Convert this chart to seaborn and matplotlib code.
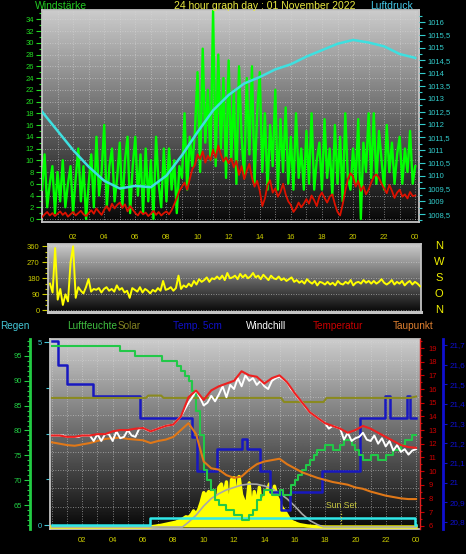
import numpy as np
import matplotlib
matplotlib.use("Agg")
import matplotlib.pyplot as plt
import matplotlib.transforms as mtransforms
from matplotlib.ticker import MultipleLocator, FixedLocator
import seaborn as sns

# ---------------- data ----------------
hour_ticks = [2, 4, 6, 8, 10, 12, 14, 16, 18, 20, 22, 24]
hour_labels = ["02", "04", "06", "08", "10", "12", "14", "16", "18", "20", "22", "00"]

# 10 minute steps 00:00 .. 24:00
ten_min = np.linspace(0, 24, 145)

# Windstärke, gusts (green)
wind_gust = [
    5, 11, 2, 6, 9, 1,
    8, 3, 10, 2, 6, 9,
    1, 7, 12, 3, 9, 0,
    6, 11, 2, 14, 4, 8,
    16, 2, 9, 12, 3, 7,
    13, 2, 10, 14, 1, 9,
    14, 4, 11, 1, 12, 3,
    10, 0, 14, 6, 2, 12,
    3, 12, 5, 10, 1, 9,
    7, 18, 5, 14, 9, 15,
    25, 8, 29, 13, 22, 10,
    35.5, 9, 28, 12, 24, 7,
    27, 10, 22, 6, 26, 14,
    7, 24, 11, 26, 6, 18,
    25, 8, 18, 5, 16, 9,
    22, 5, 17, 8, 19, 6,
    14, 5, 18, 7, 12, 5,
    15, 6, 18, 5, 10, 13,
    5, 17, 7, 12, 4, 16,
    6, 14, 3, 18, 7, 5,
    12, 6, 17, 0, 13, 8,
    18, 7, 18, 6, 15, 10,
    5, 16, 8, 13, 6, 11,
    14, 6, 12, 8, 15, 6,
    9,
]

# Windstärke, average (red)
wind_avg = [
    0.3, 0.8, 1.2, 0.6, 1.0, 0.5,
    0.9, 1.3, 0.7, 1.1, 0.4, 0.8,
    1.2, 0.6, 1.0, 1.4, 0.8, 0.5,
    1.0, 1.5, 0.9, 1.8, 1.2, 0.7,
    1.6, 2.2, 1.4, 2.6, 1.8, 2.4,
    2.8, 1.9, 2.5, 1.3, 2.2, 1.6,
    1.0, 0.6, 1.3, 0.8, 1.1, 0.5,
    0.9, 1.4, 0.7, 1.2, 0.6, 1.0,
    1.3, 0.8, 1.5, 2.5, 3.6, 4.8,
    5.5, 6.2, 5.0, 6.8, 8.5, 9.2,
    11.0, 10.2, 11.5, 9.6, 10.8, 10.0,
    11.8, 10.4, 12.5, 11.0, 9.8, 10.5,
    9.5, 10.3, 8.8, 9.9, 7.5, 9.0,
    6.8, 8.2, 9.4, 7.0, 5.5, 6.5,
    4.8, 2.2, 3.5, 5.8, 6.6, 4.5,
    5.2, 3.8, 4.6, 6.0, 4.2, 3.0,
    2.4, 1.2, 1.8, 2.8, 2.0, 2.6,
    3.4, 2.6, 4.0, 3.2, 2.2, 3.8,
    4.5, 3.6, 2.8, 3.8, 4.2, 2.5,
    1.2, 0.6, 2.5, 4.8, 6.8, 7.8,
    7.2, 5.5, 6.5, 4.8, 5.6, 4.2,
    5.0, 6.2, 7.2, 7.6, 7.0, 6.0,
    5.2, 4.4, 5.8, 4.8, 3.6, 4.5,
    5.0, 3.8, 4.2, 3.5, 4.6, 3.9,
    4.0,
]

# Luftdruck, hourly (cyan)
pressure_hours = list(range(25))
pressure = [1012.5, 1011.75, 1011.0, 1010.35, 1009.8, 1009.5, 1009.6, 1009.55,
            1010.0, 1010.8, 1011.7, 1012.55, 1013.15, 1013.6, 1013.85, 1014.15,
            1014.35, 1014.65, 1014.9, 1015.15, 1015.3, 1015.2, 1015.05, 1014.75,
            1014.6]
pressure_ticks = [1008.5, 1009, 1009.5, 1010, 1010.5, 1011, 1011.5, 1012,
                  1012.5, 1013, 1013.5, 1014, 1014.5, 1015, 1015.5, 1016]
wind_ticks = list(range(0, 35, 2))

# Windrichtung, degrees (yellow)
wind_dir = [
    150, 100, 350, 60, 120, 30,
    90, 50, 270, 360, 70, 130,
    110, 95, 130, 176, 105, 120,
    115, 125, 100, 120, 130, 110,
    120, 105, 140, 115, 125, 100,
    110, 70, 125, 115, 105, 130,
    100, 120, 110, 95, 115, 105,
    125, 110, 165, 115, 120, 130,
    110, 125, 195, 120, 140, 130,
    150, 135, 165, 145, 175, 160,
    170, 185, 160, 180, 175, 190,
    175, 195, 170, 210, 180, 185,
    195, 175, 205, 185, 200, 180,
    190, 210, 185, 195, 175, 200,
    185, 170, 195, 180, 175, 190,
    170, 180, 165, 175, 185, 160,
    170, 155, 165, 150, 175, 160,
    150, 165, 140, 160, 155, 145,
    160, 145, 155, 140, 165, 150,
    145, 160, 150, 170, 140, 155,
    160, 150, 170, 155, 165, 150,
    165, 150, 160, 175, 155, 145,
    155, 170, 145, 160, 150, 165,
    140, 155, 165, 145, 160, 150,
    135,
]
dir_ticks = [0, 90, 180, 270, 360]
dir_letters = ["N", "O", "S", "W", "N"]

# lower chart
half_hour = np.linspace(0, 24, 49)
quarter_hour = np.linspace(0, 24, 97)

temperature = [12.6, 12.6, 12.5, 12.5, 12.6, 12.6, 12.7, 12.7, 12.9, 13.0,
               13.0, 13.1, 13.15, 12.9, 13.1, 13.3, 13.4, 14.0, 15.4, 15.9,
               15.2, 15.9, 16.2, 16.4, 16.6, 17.3, 17.0, 16.9, 16.4, 16.8,
               17.0, 16.5, 15.7, 15.0, 14.3, 13.9, 13.5, 13.3, 13.1, 12.8,
               13.0, 13.3, 13.1, 12.8, 12.5, 12.2, 11.9, 11.75, 11.7]

dewpoint = [12.1, 12.0, 11.9, 11.85, 11.95, 12.05, 12.2, 12.35, 12.4, 12.45,
            12.35, 12.3, 12.25, 12.05, 12.2, 12.3, 12.5, 13.0, 13.5, 12.7,
            10.7, 10.2, 10.1, 9.7, 9.5, 9.6, 10.1, 10.5, 10.7, 10.8,
            10.9, 10.5, 10.2, 9.9, 9.7, 9.5, 9.35, 9.2, 9.1, 9.0,
            8.8, 8.7, 8.5, 8.35, 8.2, 8.1, 8.0, 7.95, 7.95]

windchill = [
    12.6, 12.6, 12.6, 12.6,
    12.5, 12.5, 12.5, 12.5,
    12.6, 12.6, 12.6, 12.2,
    12.7, 12.2, 12.7, 12.7,
    12.2, 12.9, 12.4, 12.5,
    13.0, 12.6, 12.5, 13.1,
    13.15, 13.0, 12.9, 13.0,
    13.1, 13.2, 13.3, 13.35,
    13.4, 13.7, 14.0, 14.5,
    15.0, 15.4, 15.9, 15.4,
    14.8, 15.0, 15.5, 15.1,
    15.6, 16.2, 15.4, 16.3,
    16.0, 16.8, 16.2, 17.0,
    16.6, 16.8, 16.3, 16.6,
    16.2, 16.0, 16.6, 16.8,
    16.9, 16.7, 16.5, 16.0,
    15.7, 15.3, 15.0, 14.6,
    14.3, 14.1, 13.9, 13.7,
    13.5, 13.1, 13.3, 13.2,
    13.1, 12.3, 12.8, 12.2,
    12.4, 12.5, 12.8, 12.3,
    12.2, 12.6, 12.0, 12.4,
    11.8, 12.2, 11.5, 11.9,
    11.4, 11.6, 11.2, 11.5,
    11.6,
]

humidity = [
    97, 97, 97, 97,
    97, 97, 97, 97,
    97, 97, 97, 97,
    97, 97, 97, 97,
    97, 97, 96, 96,
    96, 96, 95, 95,
    95, 95, 95, 95,
    95, 94, 94, 94,
    94, 93, 92, 91,
    90, 88, 84, 79,
    72, 70, 68, 66,
    65, 65, 64, 64,
    63, 63, 62, 62,
    63, 64, 66, 67,
    68, 68, 67, 67,
    68, 67, 67, 69,
    70, 71, 72, 73,
    74, 75, 76, 76,
    77, 77, 76, 76,
    77, 78, 78, 77,
    76, 75, 74, 74,
    75, 75, 74, 74,
    75, 75, 76, 76,
    77, 78, 78, 79,
    79,
]

temp5_hours = [0, 0.4, 1.0, 2.7, 5.8, 9.2, 9.55, 10.9, 12.5, 12.85, 13.7,
               14.4, 15.1, 15.7, 17.8, 20.3, 21.95, 22.3, 23.4, 23.6, 24.0]
temp5 = [21.72, 21.6, 21.5, 21.44, 21.33, 21.23, 21.06, 21.17, 21.22, 21.17,
         21.06, 20.95, 20.86, 20.95, 21.06, 21.33, 21.44, 21.33, 21.44, 21.33,
         21.33]

rain_hours = [0, 6.47, 23.93, 24.0]
rain = [0.0, 0.19, 0.0, 0.0]

olive_hours = [0, 6.2, 6.35, 7.2, 7.35, 15.1, 15.3, 17.9, 18.1, 23.6, 24.0]
olive = [15.35, 15.35, 15.52, 15.52, 15.35, 15.35, 15.05, 15.05, 15.35, 15.35, 15.45]

solar_hours = np.concatenate([[0.0], np.linspace(6, 18, 73), [24.0]])
solar = [0,
         0, 0, 0, 2, 5, 8,
         12, 15, 20, 25, 30, 35,
         40, 45, 55, 65, 80, 95,
         90, 110, 150, 120, 160, 230,
         320, 290, 330, 310, 340, 150,
         370, 400, 280, 420, 60, 440,
         460, 210, 470, 300, 240, 200,
         410, 120, 330, 200, 370, 150,
         300, 330, 400, 220, 380, 280,
         230, 180, 150, 110, 70, 50,
         40, 30, 22, 18, 14, 10,
         8, 6, 4, 3, 2, 1,
         0,
         0]

solar_max_hours = [0, 8.6, 9, 9.5, 10, 10.5, 11, 11.5, 12, 12.5, 13, 13.5,
                   14, 14.5, 15, 15.5, 16, 16.5, 17, 17.5, 17.9, 24]
solar_max = [0, 0, 45, 110, 195, 265, 310, 345, 368, 390, 400, 398,
             382, 358, 315, 262, 195, 120, 60, 22, 0, 0]

sunset_hour = 19.05

humidity_ticks = [65, 70, 75, 80, 85, 90, 95]
temp_ticks = list(range(6, 20))
temp5_ticks = [20.8, 20.9, 21.0, 21.1, 21.2, 21.3, 21.4, 21.5, 21.6, 21.7]

legend_names = ["Regen", "Luftfeuchte", "Solar", "Temp. 5cm", "Windchill",
                "Temperatur", "Taupunkt"]

# ---------------- style ----------------
plt.rcParams["font.family"] = ["Liberation Sans", "DejaVu Sans"]
plt.rcParams["axes.facecolor"] = "black"

W, H = 466, 554
fig = plt.figure(figsize=(W / 100, H / 100), dpi=100, facecolor="black")


def px_box(x0, y0, x1, y1):
    return [x0 / W, 1 - y1 / H, (x1 - x0) / W, (y1 - y0) / H]


def shade(ax):
    grad = np.linspace(0.80, 0.03, 256).reshape(-1, 1)
    ax.imshow(grad, extent=[0, 1, 0, 1], transform=ax.transAxes, aspect="auto",
              cmap="gray", vmin=0, vmax=1, zorder=0, interpolation="bilinear")
    ax.set_axisbelow(True)


def comma(v):
    return f"{v:g}".replace(".", ",")


def bare_twin(ax):
    tw = ax.twinx()
    for s in tw.spines.values():
        s.set_visible(False)
    tw.tick_params(axis="y", which="both", right=False, labelright=False,
                   left=False, labelleft=False)
    return tw


grid_kw = dict(color="#d8d8d8", linestyle=(0, (1, 2)), linewidth=0.6, alpha=0.7)
frame = "#c4c4c4"
tick_yel = "#cccc00"

# ================= top: wind + pressure =================
ax1 = fig.add_axes(px_box(42, 10, 419, 222))
shade(ax1)
sns.lineplot(x=ten_min, y=wind_gust, ax=ax1, color="#00ff00", lw=1.7,
             estimator=None, errorbar=None, zorder=3)
sns.lineplot(x=ten_min, y=wind_avg, ax=ax1, color="#dd1100", lw=1.3,
             estimator=None, errorbar=None, zorder=4)
ax1.set_xlim(0, 24.24)
ax1.set_ylim(-0.51, 35.58)
ax1.set_xticks(hour_ticks)
ax1.set_xticklabels(hour_labels)
ax1.xaxis.set_minor_locator(MultipleLocator(1))
ax1.set_yticks(wind_ticks)
ax1.yaxis.set_minor_locator(MultipleLocator(1))
ax1.tick_params(axis="x", which="both", length=0, pad=9, colors=tick_yel, labelsize=5.5)
ax1.tick_params(axis="y", which="major", length=4, width=0.8, pad=2,
                colors="#22dd22", labelsize=5.5)
ax1.tick_params(axis="y", which="minor", length=2, width=0.8, colors="#22dd22")
ax1.grid(axis="x", which="both", **grid_kw)
ax1.grid(axis="y", which="major", **grid_kw)
for s in ax1.spines.values():
    s.set_color(frame)
    s.set_linewidth(1.3)
ax1.set_xlabel("")
ax1.set_ylabel("")

ax1p = bare_twin(ax1)
sns.lineplot(x=pressure_hours, y=pressure, ax=ax1p, color="#3ee0e0", lw=1.8,
             estimator=None, errorbar=None)
ax1p.set_ylim(1008.19, 1016.47)
ax1p.set_yticks(pressure_ticks)
ax1p.set_yticklabels([comma(v) for v in pressure_ticks])
ax1p.yaxis.set_minor_locator(MultipleLocator(0.25))
ax1p.tick_params(axis="y", which="major", right=True, labelright=True, length=4,
                 width=0.8, pad=2, colors="#33cccc", labelsize=5.5)
ax1p.tick_params(axis="y", which="minor", right=True, length=2, width=0.8,
                 colors="#33cccc")
ax1p.set_ylabel("")

fig.text(35 / W, 1 - 6 / H, "Windstärke", color="#22cc22", fontsize=7.5,
         ha="left", va="center")
fig.text(265 / W, 1 - 6 / H, "24 hour graph day : 01 November 2022",
         color="#e8e840", fontsize=7.5, ha="center", va="center")
fig.text(370 / W, 1 - 6 / H, "Luftdruck", color="#44c8e8", fontsize=7.5,
         ha="left", va="center")

# ================= middle: wind direction =================
ax2 = fig.add_axes(px_box(48, 244, 421, 312))
shade(ax2)
sns.lineplot(x=ten_min, y=wind_dir, ax=ax2, color="#ffff00", lw=1.4,
             estimator=None, errorbar=None, zorder=3)
ax2.set_xlim(-0.13, 24.06)
ax2.set_ylim(-9.6, 372.9)
ax2.set_xticks([])
ax2.set_yticks(dir_ticks)
ax2.yaxis.set_minor_locator(MultipleLocator(30))
ax2.tick_params(axis="y", which="major", length=4, width=0.8, pad=2,
                colors=tick_yel, labelsize=5.5)
ax2.tick_params(axis="y", which="minor", length=2, width=0.8, colors=tick_yel)
ax2.grid(axis="y", which="major", **grid_kw)
for s in ax2.spines.values():
    s.set_color(frame)
    s.set_linewidth(1.3)
ax2.spines["bottom"].set_linewidth(2.2)
ax2.set_xlabel("")
ax2.set_ylabel("")
side = mtransforms.blended_transform_factory(ax2.transAxes, ax2.transData)
for val, letter in zip(dir_ticks, dir_letters):
    ax2.text(1.048, val, letter, transform=side, color="#f0f000", fontsize=8,
             ha="center", va="center", clip_on=False)

# legend row
legend_x = [0, 67, 118, 173, 246, 313, 393]
legend_colors = ["#44c8d8", "#40c040", "#808020", "#1010c8", "#ffffff",
                 "#c80000", "#e08030"]
for name, lx, col in zip(legend_names, legend_x, legend_colors):
    fig.text(lx / W, 1 - 326 / H, name, color=col, fontsize=7.2,
             ha="left", va="center")

# ================= bottom: temperatures etc. =================
ax3 = fig.add_axes(px_box(50, 339, 420, 529))
shade(ax3)
ax3.set_xlim(-0.13, 24.26)
ax3.set_ylim(-0.109, 5.082)
ax3.set_xticks(hour_ticks)
ax3.set_xticklabels(hour_labels)
ax3.xaxis.set_minor_locator(MultipleLocator(1))
ax3.tick_params(axis="x", which="both", length=0, pad=6, colors=tick_yel, labelsize=5.5)
ax3.yaxis.set_major_locator(FixedLocator([0, 5]))
ax3.yaxis.set_minor_locator(FixedLocator([1.25, 2.5, 3.75]))
ax3.tick_params(axis="y", which="major", length=4, width=0.8, pad=2,
                colors="#44c8d8", labelsize=5.5)
ax3.tick_params(axis="y", which="minor", length=3, width=0.8, colors="#44c8d8")
ax3.grid(axis="x", which="both", **grid_kw)
for v in np.arange(0.5, 5.01, 0.5):
    ax3.axhline(v, zorder=0.5, **grid_kw)
for s in ax3.spines.values():
    s.set_color(frame)
    s.set_linewidth(1.3)
ax3.spines["right"].set_visible(False)

# solar
ax_s = bare_twin(ax3)
ax_s.fill_between(solar_hours, solar, color="#ffff00", lw=0, zorder=2)
sns.lineplot(x=solar_hours, y=solar, ax=ax_s, color="#ffff00", lw=2.4,
             estimator=None, errorbar=None, zorder=3)
sns.lineplot(x=solar_max_hours, y=solar_max, ax=ax_s, color="#a8a8a8", lw=1.2,
             estimator=None, errorbar=None, zorder=4)
ax_s.set_ylim(-18.6, 1749)
ax_s.set_ylabel("")

# rain
ax_r = bare_twin(ax3)
sns.lineplot(x=rain_hours, y=rain, ax=ax_r, color="#30e8e8", lw=1.8,
             drawstyle="steps-post", estimator=None, errorbar=None)
ax_r.set_ylim(-0.109, 5.082)
ax_r.vlines(sunset_hour, -0.05, 0.38, colors="#c8c840", linestyles=(0, (1, 1.5)), lw=0.9)
ax_r.text(sunset_hour, 0.53, "Sun Set", color="#c8c840", fontsize=6.2,
          ha="center", va="center")
ax_r.set_ylabel("")

# temp 5 cm
ax_5 = bare_twin(ax3)
sns.lineplot(x=temp5_hours, y=temp5, ax=ax_5, color="#1818c0", lw=1.8,
             drawstyle="steps-post", estimator=None, errorbar=None)
ax_5.set_ylim(20.764, 21.7305)
ax_5.set_yticks(temp5_ticks)
ax_5.set_yticklabels([comma(v) for v in temp5_ticks])
ax_5.spines["right"].set_visible(True)
ax_5.spines["right"].set_position(("axes", (443 - 50) / 370))
ax_5.spines["right"].set_color("#1010d0")
ax_5.spines["right"].set_linewidth(2)
ax_5.tick_params(axis="y", which="major", right=True, labelright=True, length=3,
                 width=0.8, pad=2, colors="#1010d0", labelsize=5.8)
ax_5.set_ylabel("")

# humidity
ax_h = bare_twin(ax3)
sns.lineplot(x=quarter_hour, y=humidity, ax=ax_h, color="#22c848", lw=1.5,
             drawstyle="steps-post", estimator=None, errorbar=None)
ax_h.set_ylim(60.17, 98.42)
ax_h.yaxis.tick_left()
ax_h.spines["left"].set_visible(True)
ax_h.spines["left"].set_position(("axes", -20 / 370))
ax_h.spines["left"].set_color("#22cc44")
ax_h.spines["left"].set_linewidth(2)
ax_h.set_yticks(humidity_ticks)
ax_h.yaxis.set_minor_locator(MultipleLocator(1))
ax_h.tick_params(axis="y", which="major", left=True, labelleft=True, length=4,
                 width=0.8, pad=2, colors="#22cc44", labelsize=5.5)
ax_h.tick_params(axis="y", which="minor", left=True, length=2, width=0.8,
                 colors="#22cc44")
ax_h.set_ylabel("")

# temperature, windchill, dewpoint
ax_t = bare_twin(ax3)
sns.lineplot(x=olive_hours, y=olive, ax=ax_t, color="#8a8a20", lw=1.5,
             estimator=None, errorbar=None, zorder=2)
sns.lineplot(x=half_hour, y=dewpoint, ax=ax_t, color="#e07818", lw=1.5,
             estimator=None, errorbar=None, zorder=3)
sns.lineplot(x=quarter_hour, y=windchill, ax=ax_t, color="#ffffff", lw=1.4,
             estimator=None, errorbar=None, zorder=4)
sns.lineplot(x=half_hour, y=temperature, ax=ax_t, color="#ee2020", lw=1.5,
             estimator=None, errorbar=None, zorder=5)
ax_t.set_ylim(5.76, 19.66)
ax_t.set_yticks(temp_ticks)
ax_t.yaxis.set_minor_locator(MultipleLocator(0.5))
ax_t.spines["right"].set_visible(True)
ax_t.spines["right"].set_color("#dd2020")
ax_t.spines["right"].set_linestyle((0, (1, 1)))
ax_t.spines["right"].set_linewidth(1)
ax_t.tick_params(axis="y", which="major", right=True, labelright=True, length=3,
                 width=0.8, pad=3, colors="#cc0000", labelsize=5.5)
ax_t.tick_params(axis="y", which="minor", right=True, length=1.5, width=0.8,
                 colors="#cc0000")
ax_t.set_ylabel("")

ax3.set_xlim(-0.13, 24.26)
ax3.set_xlabel("")
ax3.set_ylabel("")

fig.savefig("out.png", dpi=100, facecolor="black")
